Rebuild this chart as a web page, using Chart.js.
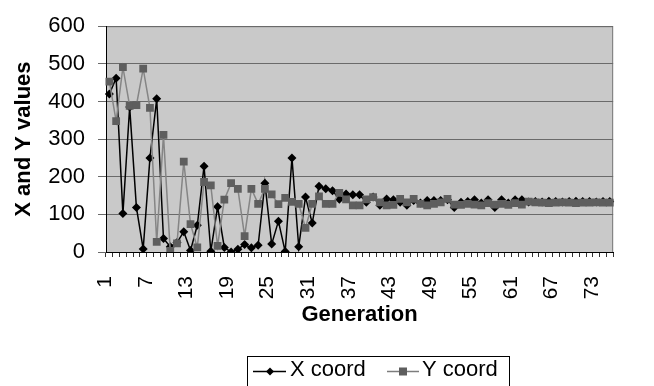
<!DOCTYPE html>
<html>
<head>
<meta charset="utf-8">
<script src="https://cdn.jsdelivr.net/npm/chart.js@4.4.1/dist/chart.umd.min.js"></script>
<style>
  html, body { margin: 0; padding: 0; background: #ffffff; }
  #wrap { width: 654px; height: 386px; position: relative; }
</style>
</head>
<body>
<div id="wrap"><canvas id="grafico"></canvas></div>
<script>
// categorias (generacion)
const generaciones = [
  '1','2','3','4','5','6','7','8','9','10','11','12','13','14','15','16','17','18','19','20',
  '21','22','23','24','25','26','27','28','29','30','31','32','33','34','35','36','37','38','39','40',
  '41','42','43','44','45','46','47','48','49','50','51','52','53','54','55','56','57','58','59','60',
  '61','62','63','64','65','66','67','68','69','70','71','72','73','74','75'
];
const etiquetasVisibles = ['1','7','13','19','25','31','37','43','49','55','61','67','73'];
const valoresEjeY = [0, 100, 200, 300, 400, 500, 600];

const xCoord = [420,462,102,385,118,8,250,407,36,14,
  25,54,4,71,228,2,120,12,0,7,
  20,11,18,183,21,82,1,250,14,146,
  77,175,168,163,140,154,152,152,132,146,
  124,141,139,132,124,137,130,137,137,137,
  139,118,132,134,139,130,139,118,139,130,
  139,139,133,134,133,135,134,133,134,135,
  134,134,133,134,134];

const yCoord = [453,348,491,388,390,487,383,27,311,3,
  23,240,74,12,186,177,16,139,183,168,
  42,168,128,168,153,127,144,133,128,64,
  128,148,128,128,157,140,124,124,140,146,
  132,124,125,141,132,141,128,124,128,132,
  141,126,125,128,126,124,130,126,128,125,
  130,126,134,132,131,130,131,132,131,130,
  131,131,132,131,131];

const fuente = "'Liberation Sans', Arial, sans-serif";

// fondo gris del area de trazado + borde
const fondoPlot = {
  id: 'fondoPlot',
  beforeDraw(chart) {
    const {ctx, chartArea: a} = chart;
    ctx.save();
    ctx.fillStyle = '#c9c9c9';
    ctx.fillRect(a.left, a.top, a.right - a.left, a.bottom - a.top);
    ctx.strokeStyle = '#7a7a7a';
    ctx.lineWidth = 1;
    ctx.beginPath();
    ctx.moveTo(a.left, a.top + 0.5);
    ctx.lineTo(a.right - 0.5, a.top + 0.5);
    ctx.lineTo(a.right - 0.5, a.bottom);
    ctx.stroke();
    ctx.restore();
  }
};

// leyenda estilo Excel con recuadro
const leyendaCaja = {
  id: 'leyendaCaja',
  afterDraw(chart) {
    const ctx = chart.ctx;
    ctx.save();
    ctx.strokeStyle = '#000';
    ctx.lineWidth = 1;
    ctx.strokeRect(247.5, 356.5, 262, 30);

    const yl = 371.5;
    // X coord
    ctx.strokeStyle = '#000';
    ctx.lineWidth = 1.5;
    ctx.beginPath(); ctx.moveTo(253, yl); ctx.lineTo(286, yl); ctx.stroke();
    ctx.fillStyle = '#000';
    ctx.beginPath();
    ctx.moveTo(270, yl - 4); ctx.lineTo(274, yl); ctx.lineTo(270, yl + 4); ctx.lineTo(266, yl);
    ctx.closePath(); ctx.fill();
    // Y coord
    ctx.strokeStyle = '#7d7d7d';
    ctx.beginPath(); ctx.moveTo(387, yl); ctx.lineTo(419, yl); ctx.stroke();
    ctx.fillStyle = '#5e5e5e';
    ctx.fillRect(399, yl - 4, 8, 8);

    ctx.fillStyle = '#000';
    ctx.font = '22px ' + fuente;
    ctx.textBaseline = 'middle';
    ctx.textAlign = 'left';
    ctx.fillText('X coord', 290, 370);
    ctx.fillText('Y coord', 422, 370);
    ctx.restore();
  }
};

const ctx = document.getElementById('grafico').getContext('2d');
new Chart(ctx, {
  type: 'line',
  data: {
    labels: generaciones,
    datasets: [
      {
        label: 'X coord',
        data: xCoord,
        borderColor: '#000000',
        backgroundColor: '#000000',
        borderWidth: 1.5,
        pointStyle: 'rectRot',
        pointRadius: 4.5,
        pointBorderWidth: 0,
        tension: 0,
        order: 1
      },
      {
        label: 'Y coord',
        data: yCoord,
        borderColor: '#858585',
        backgroundColor: '#5e5e5e',
        borderWidth: 1.5,
        pointStyle: 'rect',
        pointRadius: 5.5,
        pointBorderWidth: 0,
        tension: 0,
        order: 0
      }
    ]
  },
  options: {
    responsive: true,
    maintainAspectRatio: false,
    animation: false,
    layout: { padding: { top: 23, right: 3, bottom: 51, left: 0 } },
    plugins: {
      legend: { display: false },
      tooltip: { enabled: false }
    },
    scales: {
      x: {
        offset: true,
        border: { color: '#000', width: 1 },
        grid: {
          offset: true,
          drawOnChartArea: false,
          drawTicks: true,
          tickLength: 5,
          color: '#333'
        },
        ticks: {
          autoSkip: false,
          maxRotation: 90,
          minRotation: 90,
          padding: 19,
          labelOffset: -4,
          color: '#000',
          font: { family: fuente, size: 21 },
          callback: function(val, i) {
            const lab = this.getLabelForValue(val);
            return etiquetasVisibles.includes(lab) ? lab : '';
          }
        },
        title: {
          display: true,
          text: 'Generation',
          color: '#000',
          font: { family: fuente, size: 22, weight: 'bold' },
          padding: { top: 0, bottom: 7 }
        },
        afterFit(scale) { scale.height = 83; }
      },
      y: {
        min: 0,
        max: 600,
        border: { color: '#000', width: 1 },
        grid: {
          color: '#6a6a6a',
          tickLength: 8,
          drawTicks: true
        },
        ticks: {
          stepSize: 100,
          padding: 13,
          color: '#000',
          font: { family: fuente, size: 22 },
          callback: (v) => valoresEjeY.includes(v) ? String(v) : ''
        },
        title: {
          display: true,
          text: 'X and Y values',
          color: '#000',
          font: { family: fuente, size: 22, weight: 'bold' },
          padding: { top: 11, bottom: 0 }
        },
        afterFit(scale) { scale.width = 106; }
      }
    }
  },
  plugins: [fondoPlot, leyendaCaja]
});
</script>
</body>
</html>
